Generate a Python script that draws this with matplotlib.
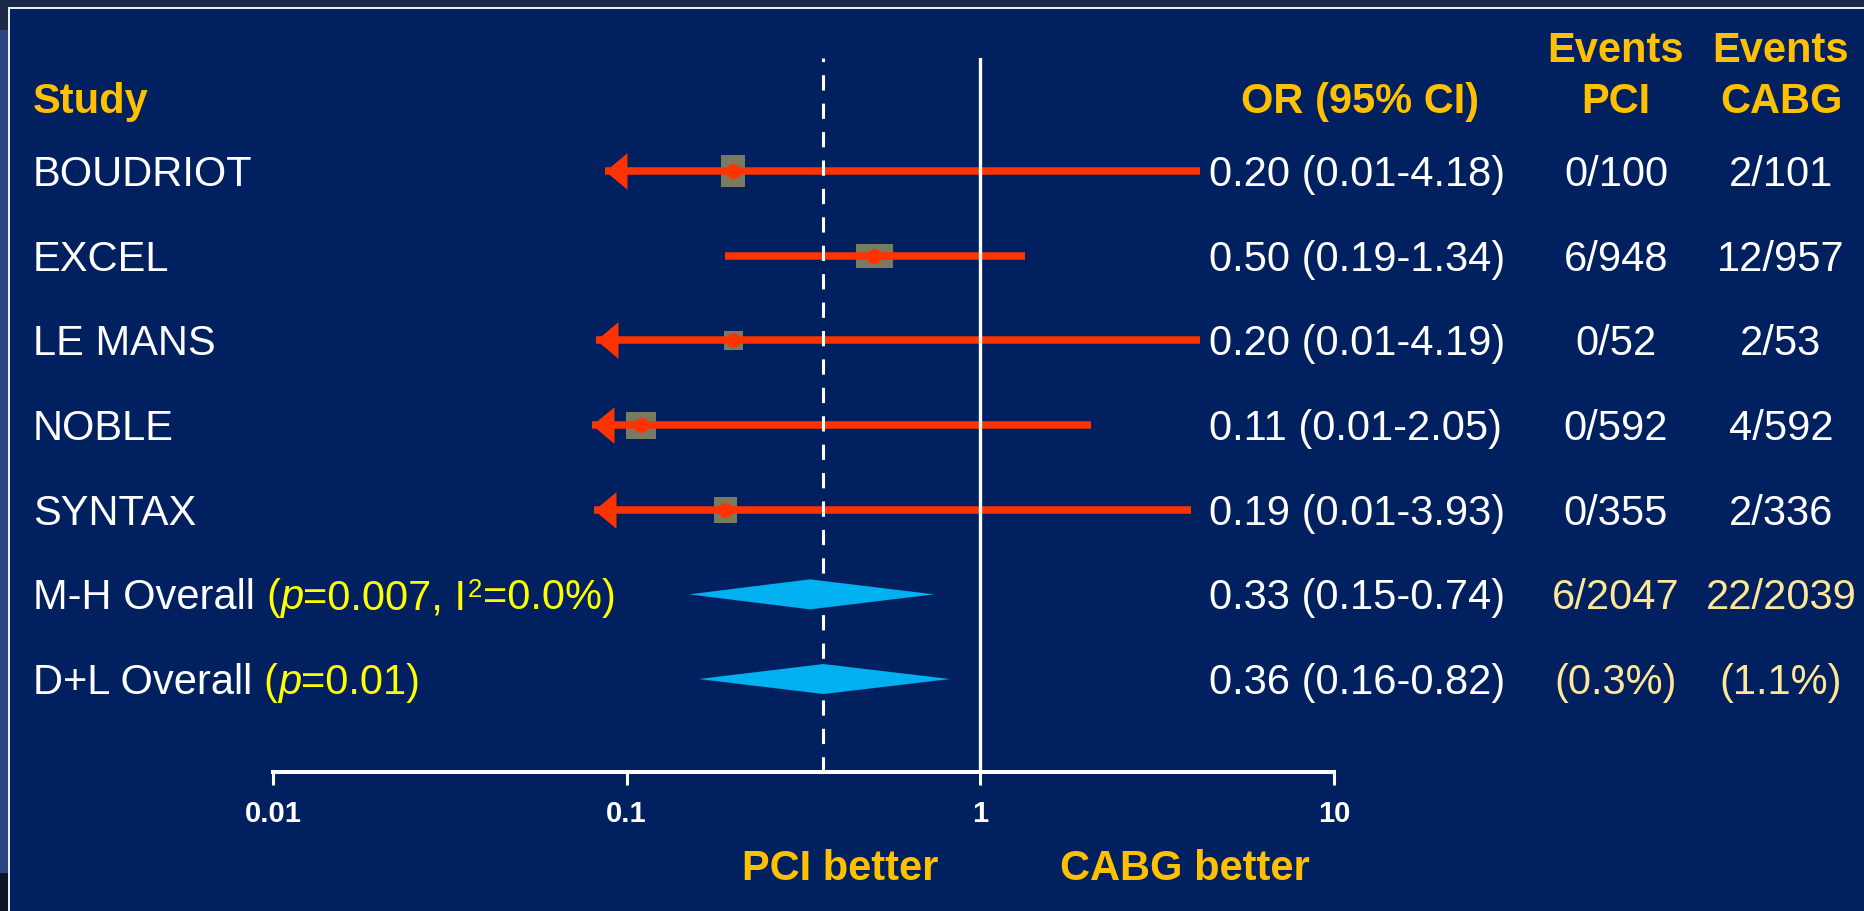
import matplotlib

matplotlib.use("Agg")

import matplotlib.pyplot as plt
from matplotlib import transforms
from matplotlib.patches import Rectangle
from matplotlib.ticker import NullLocator
import numpy as np

plt.rcParams['font.family'] = ['Liberation Sans', 'DejaVu Sans']

# ---- data ----
studies = ['BOUDRIOT', 'EXCEL', 'LE MANS', 'NOBLE', 'SYNTAX']
or_est = [0.20, 0.50, 0.20, 0.11, 0.19]
ci_lo = [0.01, 0.19, 0.01, 0.01, 0.01]
ci_hi = [4.18, 1.34, 4.19, 2.05, 3.93]
ev_pci = ['0/100', '6/948', '0/52', '0/592', '0/355']
ev_cabg = ['2/101', '12/957', '2/53', '4/592', '2/336']
# CIs running off the left of the plot end in an arrow at this value
arrow_tip = [0.087, None, 0.082, 0.080, 0.081]

pooled = ['M-H Overall', 'D+L Overall']
pooled_or = [0.33, 0.36]
pooled_lo = [0.15, 0.16]
pooled_hi = [0.74, 0.82]
pooled_p = ['0.007', '0.01']
pooled_i2 = ['0.0%', None]
pooled_pci = ['6/2047', '(0.3%)']
pooled_cabg = ['22/2039', '(1.1%)']

ticks = [0.01, 0.1, 1, 10]
tick_labels = ['0.01', '0.1', '1', '10']

# ---- style ----
W, H = 1864, 911
BG = '#00205f'
GOLD = '#ffc000'
YELLOW = '#ffff00'
PALE = '#ffe699'
RED = '#ff3300'
BOX = '#7a7a60'
CYAN = '#00b0f0'
ROW_PX = 84.67          # pixel distance between rows
ROW0_PX = 171           # pixel y of first row
AX_TOP, AX_BOT = 58, 772
AX_L, AX_R = 273, 1334
box_w = [24, 37, 19, 30, 23]   # px, weight boxes
box_h = [32, 24, 19, 27, 26]
FS = 30

fig = plt.figure(figsize=(W / 100, H / 100), dpi=100, facecolor=BG)


def px_rect(x, y, w, h, color, z=0):
    fig.add_artist(Rectangle((x / W, 1 - (y + h) / H), w / W, h / H,
                             transform=fig.transFigure, color=color, lw=0, zorder=z))


# slide frame
px_rect(0, 0, W, 7, '#1c2a48')
px_rect(0, 0, 8, H, '#1c2a48')
px_rect(0, 30, 8, 843, '#2a4680')
px_rect(0, 873, 8, H - 873, '#0d1428')
px_rect(8, 7, W - 8, 2, '#e8ecf4', 1)
px_rect(8, 7, 2, H - 7, '#e8ecf4', 1)

ax = fig.add_axes([AX_L / W, 1 - AX_BOT / H, (AX_R - AX_L) / W, (AX_BOT - AX_TOP) / H])
ax.set_facecolor('none')
ax.set_xscale('log')
ax.set_xlim(0.01, 10)
ax.set_ylim((AX_BOT - ROW0_PX) / ROW_PX, (AX_TOP - ROW0_PX) / ROW_PX)

rows = np.arange(len(studies))
prow = len(studies) + np.arange(len(pooled))

# reference lines
ax.axvline(1, color='white', lw=2.4, zorder=2.5)
ax.axvline(pooled_or[1], color='white', lw=2.2, ls=(0, (5, 4.3)), zorder=2.5)

# study CIs, boxes and point estimates
tip_marker = [(0, 0), (1.2, 1), (1.2, -1)]
for i, r in enumerate(rows):
    left = arrow_tip[i] if arrow_tip[i] is not None else ci_lo[i]
    ax.plot([left, ci_hi[i]], [r, r], color=RED, lw=5.4, solid_capstyle='butt', zorder=2)
    if arrow_tip[i] is not None:
        ax.plot(arrow_tip[i], r, marker=tip_marker, ms=44 * 0.72, color=RED, mew=0, zorder=2)
    w, h = box_w[i], box_h[i]
    verts = [(-w / 2, -h / 2), (w / 2, -h / 2), (w / 2, h / 2), (-w / 2, h / 2)]
    ax.plot(or_est[i], r, marker=verts, ms=max(w, h) * 0.72, color=BOX, mew=0, zorder=1.8)
    ax.plot(or_est[i], r, 'o', ms=10.8, color=RED, mew=0, zorder=4)

# pooled diamonds
dh = 15 / ROW_PX
for j, r in enumerate(prow):
    ax.fill([pooled_lo[j], pooled_or[j], pooled_hi[j], pooled_or[j]],
            [r, r - dh, r, r + dh], color=CYAN, lw=0, zorder=3)

# axis
for s in ['top', 'left', 'right']:
    ax.spines[s].set_visible(False)
ax.spines['bottom'].set_bounds(0.01, 10)
ax.spines['bottom'].set_color('white')
ax.spines['bottom'].set_linewidth(2.9)
ax.set_yticks([])
ax.set_xticks(ticks, labels=tick_labels)
ax.xaxis.set_minor_locator(NullLocator())
ax.tick_params(axis='x', which='major', colors='white', length=9.4, width=2.2,
               pad=10.8, labelsize=21)
for lbl in ax.get_xticklabels():
    lbl.set_fontweight('bold')

# ---- text ----
blend = transforms.blended_transform_factory(fig.transFigure, ax.transData)
tr = transforms.offset_copy(blend, fig=fig, y=-0.358 * FS, units='points')

X_STUDY, X_OR, X_OR_VAL, X_PCI, X_CABG = 33, 1360, 1209, 1616, 1781
y_events = (47.5 - ROW0_PX) / ROW_PX
y_head = (98 - ROW0_PX) / ROW_PX

hd = dict(transform=tr, fontsize=FS, fontweight='bold', color=GOLD, va='baseline')
ax.text(X_STUDY / W, y_head, 'Study', ha='left', **hd)
ax.text(X_OR / W, y_head, 'OR (95% CI)', ha='center', **hd)
ax.text(X_PCI / W, y_events, 'Events', ha='center', **hd)
ax.text(X_PCI / W, y_head, 'PCI', ha='center', **hd)
ax.text(X_CABG / W, y_events, 'Events', ha='center', **hd)
ax.text(X_CABG / W, y_head, 'CABG', ha='center', **hd)

tx = dict(transform=tr, fontsize=FS, va='baseline')
for i, r in enumerate(rows):
    ax.text(X_STUDY / W, r, studies[i], ha='left', color='white', **tx)
    ax.text(X_OR_VAL / W, r, f'{or_est[i]:.2f} ({ci_lo[i]:.2f}-{ci_hi[i]:.2f})',
            ha='left', color='white', **tx)
    ax.text(X_PCI / W, r, ev_pci[i], ha='center', color='white', **tx)
    ax.text(X_CABG / W, r, ev_cabg[i], ha='center', color='white', **tx)


def chain(prev, s, dx=0, **kw):
    kw.setdefault('fontsize', FS)
    kw.setdefault('va', 'bottom')
    kw.setdefault('xy', (1, 0))
    return ax.annotate(s, xycoords=prev, xytext=(dx, 0), textcoords='offset points',
                       ha='left', color=YELLOW, annotation_clip=False, **kw)


for j, r in enumerate(prow):
    t = ax.text(X_STUDY / W, r, pooled[j], ha='left', color='white', **tx)
    t = chain(t, '(', dx=0.278 * FS)
    t = chain(t, 'p', style='italic')
    if pooled_i2[j] is None:
        chain(t, '=' + pooled_p[j] + ')')
    else:
        t = chain(t, '=' + pooled_p[j] + ', I')
        sup = chain(t, '2', dx=1, fontsize=FS * 0.62, xy=(1, 1), va='top')
        ax.annotate('=' + pooled_i2[j] + ')', xy=(1, 0), xycoords=(sup, t),
                    xytext=(0.5, 0), textcoords='offset points', ha='left', va='bottom',
                    fontsize=FS, color=YELLOW, annotation_clip=False)
    ax.text(X_OR_VAL / W, r, f'{pooled_or[j]:.2f} ({pooled_lo[j]:.2f}-{pooled_hi[j]:.2f})',
            ha='left', color='white', **tx)
    ax.text(X_PCI / W, r, pooled_pci[j], ha='center', color=PALE, **tx)
    ax.text(X_CABG / W, r, pooled_cabg[j], ha='center', color=PALE, **tx)

fig.text(840 / W, 1 - 880 / H, 'PCI better', ha='center', va='baseline',
         fontsize=FS, fontweight='bold', color=GOLD)
fig.text(1185 / W, 1 - 880 / H, 'CABG better', ha='center', va='baseline',
         fontsize=FS, fontweight='bold', color=GOLD)

fig.savefig('out.png', dpi=100, facecolor=fig.get_facecolor())
